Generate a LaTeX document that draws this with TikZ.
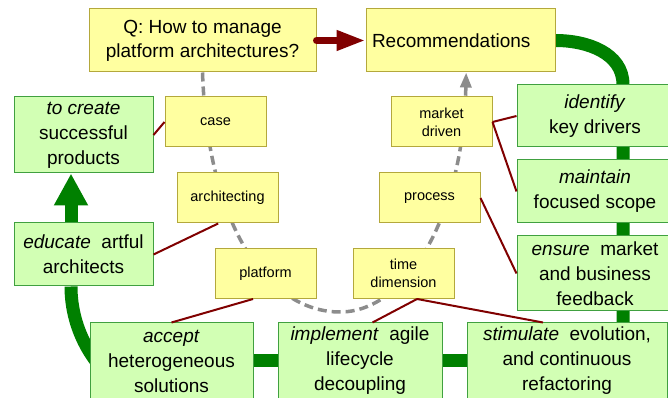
\documentclass[tikz,border=0pt]{standalone}
\usepackage{fontspec}
\setmainfont{Liberation Sans}
\usetikzlibrary{arrows.meta,calc,backgrounds}

\definecolor{notey}{HTML}{FFFFA0}
\definecolor{notebd}{HTML}{B4A83C}
\definecolor{goalg}{HTML}{D2FFB4}
\definecolor{goalbd}{HTML}{40A040}
\definecolor{flowg}{HTML}{008000}
\definecolor{linkred}{HTML}{800000}
\definecolor{dashgray}{HTML}{8C8C8C}

\begin{document}
\begin{tikzpicture}[x=1pt, y=1pt,
    bigq/.style={draw=notebd, fill=notey, line width=1pt, inner sep=0pt, align=center,
                 font=\fontsize{19}{24}\selectfont},
    tag/.style={draw=notebd, fill=notey, line width=1pt, minimum width=101pt, minimum height=50pt,
                inner sep=0pt, align=center, font=\fontsize{14.5}{18}\selectfont},
    goal/.style={draw=goalbd, fill=goalg, line width=1pt, inner sep=0pt, align=center,
                 font=\fontsize{19}{25}\selectfont},
    flow/.style={draw=flowg, line width=13pt},
    link/.style={draw=linkred, line width=2pt},
    thread/.style={draw=dashgray, line width=3.5pt, dash pattern=on 9pt off 5pt,
                   -{Triangle[width=11pt,length=15pt]}}]
            \useasboundingbox (0,0) rectangle (668,398);

            % --- Top: question and answer ---
            \node[bigq, minimum width=227pt, minimum height=63pt] (q) at (202.5,357.5)
                {Q: How to manage\\platform architectures?};
            \node[bigq, minimum width=189pt, minimum height=63pt, text width=177pt, align=left]
                (rec) at (460.5,357.5) {Recommendations};
            \draw[linkred, line width=7pt, line cap=round, -{Triangle[width=19pt,length=29pt]}]
                (q.east) -- (rec.west);

            % --- Middle: the keywords along the thread ---
            \node[tag] (case)  at (215.5,276)   {case};
            \node[tag] (archi) at (227.5,200)   {architecting};
            \node[tag] (plat)  at (265.5,124.5) {platform};
            \node[tag] (time)  at (403.5,124.5) {time\\dimension};
            \node[tag] (proc)  at (429.5,200)   {process};
            \node[tag] (mkt)   at (441.5,276)   {market\\driven};

            % --- Left column ---
            \node[goal, minimum width=139pt, minimum height=76pt] (create) at (83.5,263)
                {\textit{to create}\\successful\\products};
            \node[goal, minimum width=139pt, minimum height=63pt] (educate) at (83.5,143.5)
                {\textit{educate}~ artful\\architects};

            % --- Bottom row ---
            \node[goal, minimum width=163pt, minimum height=76pt] (accept) at (171.5,37)
                {\textit{accept}\\heterogeneous\\solutions};
            \node[goal, minimum width=164pt, minimum height=76pt] (impl) at (360,37)
                {\textit{implement}~ agile\\lifecycle\\decoupling};
            \node[goal, minimum width=200pt, minimum height=76pt] (stim) at (567,37)
                {\textit{stimulate}~ evolution,\\and continuous\\refactoring};

            % --- Right column ---
            \node[goal, minimum width=156pt, minimum height=62pt] (ident) at (595,282)
                {\textit{identify}\\key drivers};
            \node[goal, minimum width=156pt, minimum height=63pt] (maint) at (595,206.5)
                {\textit{maintain}\\focused scope};
            \node[goal, minimum width=156pt, minimum height=75pt] (ensure) at (595,124.5)
                {\textit{ensure}~ market\\and business\\feedback};

            % Green loop and dashed thread behind the boxes
            \coordinate (gx)  at (623,0);
            \coordinate (lx)  at (71,0);
            \coordinate (low) at (340,86);
            \begin{scope}[on background layer]
                \draw[flow] (rec.east) to[out=0,in=90] (ident.north -| gx) -- (stim.north -| gx);
                \draw[flow] (stim.west) -- (impl.east);
                \draw[flow] (impl.west) -- (accept.east);
                \draw[flow] (educate.south -| lx) arc[start angle=180, end angle=240, radius=124];
                \draw[thread] (q.south) .. controls (208,168) and (270,86) .. (low)
                    .. controls (405,86) and (463,178) .. (rec.280);
            \end{scope}
            \draw[flow, -{Triangle[width=32pt,length=32pt]}] (educate.north -| lx) -- (create.south -| lx);

            % Red links from keywords to goals
            \draw[link] (case.west) -- (create.east);
            \draw[link] (archi.250) -- (educate.east);
            \draw[link] (plat.244) -- (accept.north);
            \draw[link] (time.298) -- (impl.72);
            \draw[link] (time.298) -- (stim.122);
            \draw[link] (proc.east) -- (ensure.west);
            \draw[link] (mkt.east) -- (ident.west);
            \draw[link] (mkt.east) -- (maint.west);
        \end{tikzpicture}
\end{document}
